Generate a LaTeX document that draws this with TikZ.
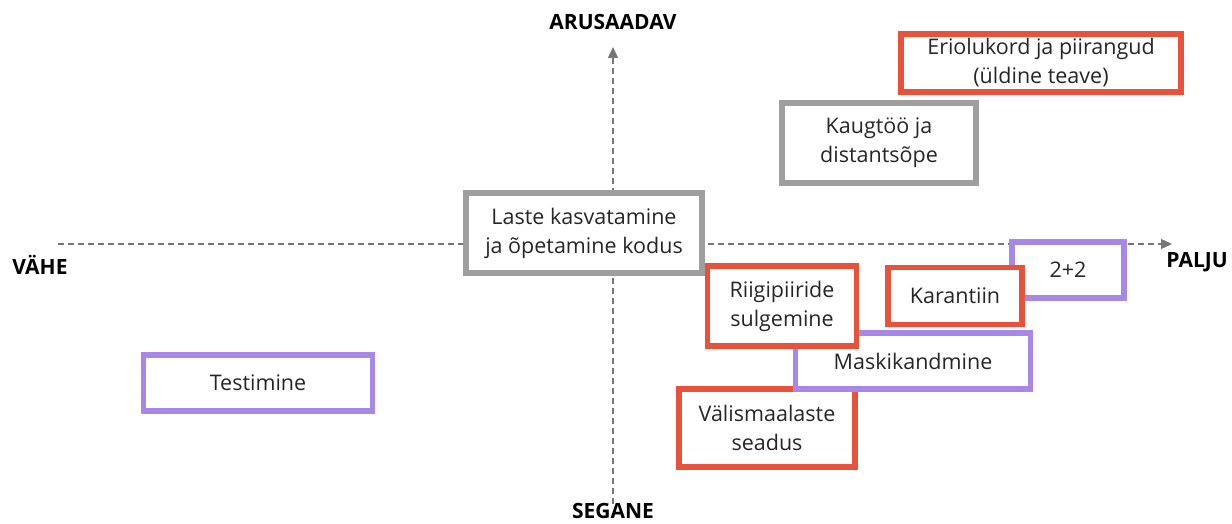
\documentclass[tikz,border=0pt]{standalone}
\usepackage{fontspec}
\setmainfont{Open Sans}
\usetikzlibrary{arrows.meta}
\definecolor{topicred}{RGB}{232,81,58}
\definecolor{topicpurple}{RGB}{167,136,230}
\definecolor{topicgray}{RGB}{158,158,158}
\definecolor{axisgray}{RGB}{118,118,118}

\begin{document}
\begin{tikzpicture}[x=1pt,y=-1pt,
  topic/.style={draw,fill=white,line width=5.5pt,inner sep=0pt,align=center,
    font=\fontsize{21.5}{29}\selectfont,text=black!85},
  axisline/.style={axisgray,line width=1.3pt,dash pattern=on 6pt off 4pt,
    -{Triangle[length=11pt,width=10pt]}},
  axislabel/.style={font=\fontsize{21}{24}\selectfont\bfseries,text=black}]
  \useasboundingbox (0,0) rectangle (1232,524);
  % axes
  \coordinate (xstart) at (58,244);
  \coordinate (xend) at (1172,244);
  \coordinate (ystart) at (613,504);
  \coordinate (yend) at (613,47);
  \draw[axisline] (xstart) -- (xend);
  \draw[axisline] (ystart) -- (yend);
  \node[axislabel] (arusaadav) at (613,22) {ARUSAADAV};
  \node[axislabel] (segane) at (613,511) {SEGANE};
  \node[axislabel] (vahe) at (40,265) {VÄHE};
  \node[axislabel] (palju) at (1197,262) {PALJU};
  % topics
  \node[topic,draw=topicpurple,minimum width=229,minimum height=56] (testimine) at (258,383) {Testimine};
  \node[topic,draw=topicgray,minimum width=236,minimum height=80] (laste) at (584,233) {Laste kasvatamine\\ja õpetamine kodus};
  \node[topic,draw=topicgray,minimum width=194,minimum height=80] (kaugtoo) at (879,143) {Kaugtöö ja\\distantsõpe};
  \node[topic,draw=topicred,minimum width=280,minimum height=58] (eriolukord) at (1041,63) {Eriolukord ja piirangud\\(üldine teave)};
  \node[topic,draw=topicpurple,minimum width=112,minimum height=56] (kaksplus) at (1068,270) {2+2};
  \node[topic,draw=topicred,minimum width=134,minimum height=57] (karantiin) at (955,296) {Karantiin};
  \node[topic,draw=topicred,minimum width=176,minimum height=78] (valismaa) at (767,428) {Välismaalaste\\seadus};
  \node[topic,draw=topicpurple,minimum width=235,minimum height=56] (mask) at (913,361) {Maskikandmine};
  \node[topic,draw=topicred,minimum width=149,minimum height=80] (riigipiir) at (782,306) {Riigipiiride\\sulgemine};
\end{tikzpicture}
\end{document}
